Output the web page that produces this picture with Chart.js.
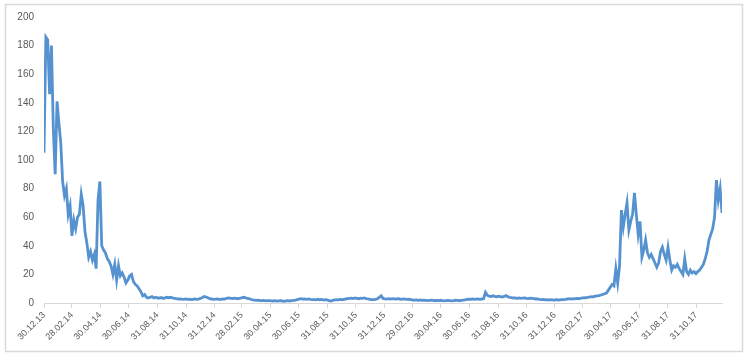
<!DOCTYPE html>
<html>
<head>
<meta charset="utf-8">
<script src="https://cdn.jsdelivr.net/npm/chart.js@4.4.1/dist/chart.umd.min.js"></script>
<style>
  html, body { margin: 0; padding: 0; background: #fff; }
  #wrap { position: relative; width: 750px; height: 358px; }
</style>
</head>
<body>
<div id="wrap"><canvas id="chart" width="750" height="358"></canvas></div>
<script>
// series starts on 30.12.13, one reading every 4 days
const startDate = "30.12.13";
const stepDays = 4;

const tickLabels = [
  "30.12.13", "28.02.14", "30.04.14", "30.06.14", "31.08.14", "31.10.14",
  "31.12.14", "28.02.15", "30.04.15", "30.06.15", "31.08.15", "31.10.15",
  "31.12.15", "29.02.16", "30.04.16", "30.06.16", "31.08.16", "31.10.16",
  "31.12.16", "28.02.17", "30.04.17", "30.06.17", "31.08.17", "31.10.17"
];

// 2014: the big drop
const values2014 = [
  105, 186, 184, 146, 180, 122, 90, 141, 126, 112,
  85, 75, 80, 62, 68, 47, 58, 52, 60, 62,
  76, 68, 50, 42, 32, 36, 30, 34, 24, 72,
  85, 40, 37, 35, 31, 29, 26, 20, 27, 16,
  26, 19, 21, 18, 14, 16, 19, 20, 15, 13,
  12, 10, 8, 5, 6, 4, 3.5, 4, 4.5, 3.5,
  4, 3.5, 3.5
];

// flat stretch, late 2014 - spring 2017
const valuesFlat = [
  3.8, 3.2, 3.6, 4.0, 3.7, 4.0, 3.6, 3.3, 3.0, 2.8,
  2.9, 2.7, 2.6, 2.8, 2.5, 2.7, 2.4, 2.6, 2.8, 2.5,
  2.7, 3.2, 3.8, 4.5, 4.2, 3.6, 3.0, 2.8, 2.6, 2.7,
  2.9, 2.6, 2.5, 2.8, 2.7, 3.3, 3.6, 3.4, 3.1, 3.3,
  3.2, 3.0, 3.3, 3.5, 4.0, 3.8, 3.2, 3.0, 2.6, 2.2,
  2.0, 1.8, 2.0, 1.7, 1.6, 1.8, 1.5, 1.7, 1.6, 1.5,
  1.4, 1.6, 1.3, 1.5, 1.6, 1.4, 1.2, 1.5, 1.7, 1.4,
  1.6, 1.8, 2.0, 2.4, 2.8, 3.0, 2.7, 2.9, 2.6, 2.8,
  2.5, 2.3, 2.4, 2.2, 2.6, 2.3, 2.5, 2.1, 2.4, 2.2,
  1.6, 1.3, 1.8, 2.2, 2.4, 2.2, 2.5, 2.3, 2.6, 2.8,
  3.0, 3.2, 3.4, 3.1, 3.5, 3.3, 3.0, 3.4, 3.2, 3.5,
  3.1, 2.8, 2.6, 2.4, 2.3, 2.5, 3.0, 4.0, 5.0, 3.2,
  2.9, 2.7, 3.0, 2.8, 3.1, 2.9, 2.7, 3.0, 2.8, 2.6,
  2.9, 2.7, 2.5, 2.6, 2.3, 2.1, 2.0, 2.2, 1.9, 2.1,
  1.8, 2.0, 1.9, 1.7, 1.9, 2.0, 1.8, 1.6, 1.8, 1.7,
  1.9, 1.6, 1.5, 1.7, 1.8, 1.6, 1.5, 1.7, 1.9, 1.8,
  1.6, 1.8, 2.0, 2.2, 2.5, 2.7, 2.6, 2.8, 2.5, 2.7,
  2.9, 2.6, 2.8, 3.0, 7.5, 5.5, 4.8, 4.5, 5.0, 4.6,
  4.3, 4.8, 4.5, 4.2, 4.6, 5.2, 4.4, 4.0, 3.8, 3.5,
  3.6, 3.3, 3.5, 3.2, 3.4, 3.6, 3.3, 3.1, 3.4, 3.2,
  3.0, 2.8, 2.9, 2.6, 2.4, 2.5, 2.2, 2.3, 2.1, 2.4,
  2.2, 2.0, 2.3, 2.1, 2.2, 2.4, 2.3, 2.5, 2.8, 3.0,
  2.7, 3.1, 2.9, 3.2, 3.0, 3.3, 3.5, 3.8, 3.6, 4.0,
  4.2, 4.5, 4.3, 4.8, 5.0
];

// 2017: the second run-up
const values2017 = [
  5.2, 5.6, 6.0, 6.5, 7.0, 9.0, 11, 13, 12, 24,
  14, 26, 65, 53, 62, 70, 51, 57, 62, 77,
  62, 48, 57, 32, 37, 44, 35, 32, 34, 31,
  28, 25, 28, 36, 39, 34, 30, 39, 30, 23,
  26, 25, 27, 24, 22, 20, 31, 22, 20, 23,
  21, 22, 20.5, 22, 23, 25, 27, 31, 36, 44,
  48, 52, 60, 86, 72, 80, 63
];

const values = [...values2014, ...valuesFlat, ...values2017];

function dayOf(s) {
  const [d, m, y] = s.split(".").map(Number);
  return Date.UTC(2000 + y, m - 1, d) / 86400000;
}

const day0 = dayOf(startDate);
const tickDays = tickLabels.map((t) => dayOf(t) - day0);
const points = values.map((v, i) => ({ x: i * stepDays, y: v }));
const lastDay = points[points.length - 1].x;

const frame = {
  id: "frame",
  beforeDraw(chart) {
    const ctx = chart.ctx;
    ctx.save();
    ctx.fillStyle = "#fff";
    ctx.fillRect(0, 0, chart.width, chart.height);
    ctx.strokeStyle = "#d9d9d9";
    ctx.lineWidth = 1.5;
    ctx.strokeRect(5.5, 4.5, 737, 347);
    ctx.restore();
  },
};

Chart.defaults.font.family = "'Liberation Sans', Arial, sans-serif";

new Chart(document.getElementById("chart"), {
  type: "line",
  data: {
    datasets: [
      {
        data: points,
        borderColor: "#5592cf",
        borderWidth: 2.8,
        pointRadius: 0,
        tension: 0,
        fill: false,
      },
    ],
  },
  options: {
    responsive: false,
    animation: false,
    devicePixelRatio: 1,
    layout: { padding: { left: 0, right: 28, top: 17, bottom: 5 } },
    plugins: { legend: { display: false }, tooltip: { enabled: false } },
    scales: {
      x: {
        type: "linear",
        min: 0,
        max: lastDay,
        grid: { drawOnChartArea: false, drawTicks: true, tickLength: 5, color: "#d9d9d9" },
        border: { display: true, color: "#d9d9d9" },
        ticks: {
          autoSkip: false,
          maxRotation: 45,
          minRotation: 45,
          padding: 2,
          color: "#595959",
          font: { size: 9 },
          callback: (value, index) => tickLabels[index],
        },
        afterBuildTicks: (scale) => {
          scale.ticks = tickDays.map((d) => ({ value: d }));
        },
        afterFit: (scale) => {
          scale.height = 50;
        },
      },
      y: {
        min: 0,
        max: 200,
        grid: { display: false, drawTicks: false },
        border: { display: false },
        ticks: { stepSize: 20, padding: 10, color: "#595959", font: { size: 10 } },
        afterFit: (scale) => {
          scale.width = 44;
        },
      },
    },
  },
  plugins: [frame],
});
</script>
</body>
</html>
